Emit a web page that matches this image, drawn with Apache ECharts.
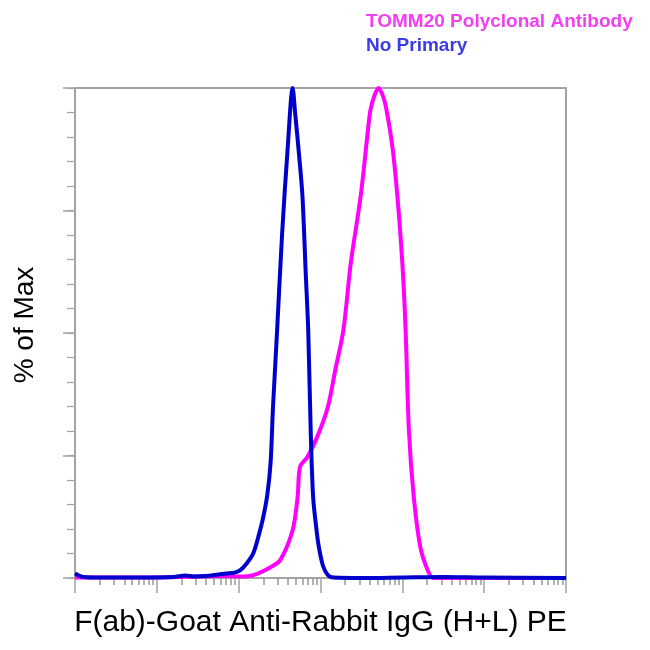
<!DOCTYPE html>
<html>
<head>
<meta charset="utf-8">
<script src="https://cdn.jsdelivr.net/npm/echarts@6/dist/echarts.min.js"></script>
<style>html,body{margin:0;padding:0;background:#fff}#c{width:650px;height:650px}</style>
</head>
<body>
<div id="c"></div>
<script>
// x positions are in log10 decades of fluorescence (0..6), y is % of Max
const seriesNames = ['TOMM20 Polyclonal Antibody', 'No Primary'];
const seriesColors = ['#ff00ff', '#0000cc'];
const legendColors = ['#f040f0', '#3c3ce6'];

const noPrimaryX = [0.0, 0.05, 0.1, 0.3, 0.8, 1.2, 1.35, 1.45, 1.6, 1.75, 1.85, 1.95, 2.02, 2.1, 2.18, 2.25, 2.3, 2.35, 2.39, 2.42, 2.47, 2.53, 2.6, 2.66, 2.69, 2.74, 2.78, 2.82, 2.85, 2.88, 2.91, 2.95, 2.98, 3.03, 3.09, 3.16, 3.5, 4.0, 4.5, 5.0, 6.0];
const noPrimaryY = [0.9, 0.5, 0.2, 0.1, 0.1, 0.2, 0.5, 0.3, 0.4, 0.7, 0.9, 1.1, 1.6, 3.0, 5.1, 9.0, 12.4, 17.0, 23.5, 35.0, 50.6, 70.0, 88.0, 100.0, 94.9, 86.0, 77.8, 62.0, 50.6, 30.2, 16.5, 10.0, 6.3, 2.5, 0.6, 0.1, 0.0, 0.1, 0.2, 0.1, 0.0];

const tommX = [0.0, 1.0, 1.8, 2.02, 2.18, 2.39, 2.51, 2.66, 2.72, 2.75, 2.84, 2.96, 3.09, 3.18, 3.28, 3.37, 3.49, 3.58, 3.61, 3.66, 3.71, 3.76, 3.80, 3.88, 3.94, 4.00, 4.04, 4.08, 4.14, 4.22, 4.31, 4.38, 5.0, 6.0];
const tommY = [0.1, 0.1, 0.4, 0.3, 0.6, 2.2, 3.7, 9.8, 16.5, 22.7, 24.7, 28.8, 34.9, 42.4, 50.6, 64.3, 77.8, 91.4, 95.5, 98.5, 100.0, 98.5, 96.1, 87.8, 77.8, 64.3, 50.6, 30.2, 16.5, 6.3, 1.6, 0.0, 0.0, 0.0];

const xDecades = [0, 1, 2, 3, 4, 5, 6];
const minorMultipliers = [2, 3, 4, 5, 6, 7, 8, 9];
const yMinorStep = 5;
const yMajorStep = 25;

const xMinorTicks = [];
xDecades.slice(0, -1).forEach(d => minorMultipliers.forEach(m => xMinorTicks.push(d + Math.log10(m))));

const zip = (xs, ys) => xs.map((x, i) => [x, ys[i]]);

const axisGray = '#a3a3a3';
const font = 'Liberation Sans, Arial, Helvetica, sans-serif';

const chart = echarts.init(document.getElementById('c'), null, {renderer: 'canvas'});
chart.setOption({
  animation: false,
  backgroundColor: '#ffffff',
  grid: {left: 75, right: 84, top: 88, bottom: 72, containLabel: false, outerBoundsMode: 'none'},
  legend: {
    orient: 'vertical',
    left: 356,
    top: 7,
    itemWidth: 0,
    itemHeight: 0,
    itemGap: 4,
    icon: 'rect',
    selectedMode: false,
    data: [
      {name: seriesNames[0], textStyle: {color: legendColors[0]}},
      {name: seriesNames[1], textStyle: {color: legendColors[1]}}
    ],
    textStyle: {fontFamily: font, fontWeight: 'bold', fontSize: 19, lineHeight: 20}
  },
  xAxis: [
    {
      type: 'value', min: 0, max: 6, interval: 1, position: 'bottom',
      name: 'F(ab)-Goat Anti-Rabbit IgG (H+L) PE', nameLocation: 'middle', nameGap: 30,
      nameTextStyle: {fontFamily: font, fontSize: 30, color: '#000'},
      axisLine: {show: true, onZero: false, lineStyle: {color: axisGray, width: 2}},
      axisTick: {show: true, length: 15, lineStyle: {color: axisGray, width: 1.5}},
      axisLabel: {show: false},
      splitLine: {show: false}
    },
    {
      type: 'value', min: 0, max: 6, position: 'bottom', gridIndex: 0, offset: 3,
      axisLine: {show: false},
      axisTick: {show: true, length: 7, customValues: xMinorTicks, lineStyle: {color: '#999999', width: 1.5}},
      axisLabel: {show: false, customValues: xMinorTicks},
      splitLine: {show: false}
    },
    {
      type: 'value', min: 0, max: 6, position: 'top',
      axisLine: {show: true, onZero: false, lineStyle: {color: axisGray, width: 2}},
      axisTick: {show: false}, axisLabel: {show: false}, splitLine: {show: false}
    }
  ],
  yAxis: [
    {
      type: 'value', min: 0, max: 100, interval: yMajorStep, position: 'left',
      name: '% of Max', nameLocation: 'middle', nameGap: 36, nameRotate: 90,
      nameTextStyle: {fontFamily: font, fontSize: 28, color: '#000', padding: [0, 0, 0, 16]},
      axisLine: {show: true, onZero: false, lineStyle: {color: axisGray, width: 2}},
      axisTick: {show: true, length: 12, lineStyle: {color: axisGray, width: 1.5}},
      axisLabel: {show: false},
      splitLine: {show: false}
    },
    {
      type: 'value', min: 0, max: 100, interval: yMinorStep, position: 'left',
      axisLine: {show: false},
      axisTick: {show: true, length: 8, lineStyle: {color: axisGray, width: 1.2}},
      axisLabel: {show: false},
      splitLine: {show: false}
    },
    {
      type: 'value', min: 0, max: 100, position: 'right',
      axisLine: {show: true, onZero: false, lineStyle: {color: axisGray, width: 2}},
      axisTick: {show: false}, axisLabel: {show: false}, splitLine: {show: false}
    }
  ],
  series: [
    {
      name: seriesNames[0], type: 'line', xAxisIndex: 0, yAxisIndex: 0,
      data: zip(tommX, tommY), showSymbol: false, smooth: 0.3,
      lineStyle: {color: seriesColors[0], width: 4}, itemStyle: {color: seriesColors[0]}, z: 3
    },
    {
      name: seriesNames[1], type: 'line', xAxisIndex: 0, yAxisIndex: 0,
      data: zip(noPrimaryX, noPrimaryY), showSymbol: false, smooth: 0.3,
      lineStyle: {color: seriesColors[1], width: 4}, itemStyle: {color: seriesColors[1]}, z: 4
    }
  ]
});
</script>
</body>
</html>
